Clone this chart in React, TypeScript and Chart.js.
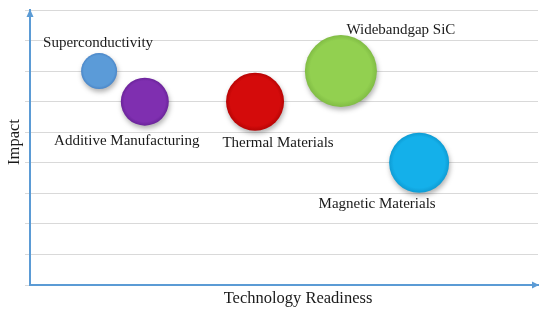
import React, { useEffect, useRef } from 'react';
import { Chart, registerables } from 'chart.js';

Chart.register(...registerables);

const names = ['Superconductivity', 'Additive Manufacturing', 'Thermal Materials', 'Widebandgap SiC', 'Magnetic Materials'];
const readiness = [1.36, 2.26, 4.43, 6.12, 7.66];
const impact = [7, 6, 6, 7, 4];
const bubbleSize = [18, 24, 29, 36, 30];

const fillColors = ['#5b9bd8', '#7f2fb0', '#d40b0b', '#92d050', '#14b0ea'];
const edgeColors = ['#4a86c8', '#6a239a', '#b80404', '#80bc44', '#0e9cd4'];
const labelOffsets = [[-1, -28], [-18, 39], [23, 41], [60, -41], [-42, 41]];

const AXIS_COLOR = '#5b9bd5';
const FONT = '"Liberation Serif", "Times New Roman", serif';

export default function App() {
  const ref = useRef<HTMLCanvasElement | null>(null);

  useEffect(() => {
    const canvas = ref.current;
    if (!canvas) return;

    const overlay = {
      id: 'overlay',
      beforeDatasetsDraw(chart: any) {
        const ctx = chart.ctx;
        ctx.save();
        ctx.shadowColor = 'rgba(0,0,0,0.3)';
        ctx.shadowBlur = 5;
        ctx.shadowOffsetX = 1;
        ctx.shadowOffsetY = 3;
      },
      afterDatasetsDraw(chart: any) {
        const ctx = chart.ctx;
        ctx.restore();
        const area = chart.chartArea;
        // arrowheads
        ctx.save();
        ctx.fillStyle = AXIS_COLOR;
        ctx.beginPath();
        ctx.moveTo(area.left, area.top - 1);
        ctx.lineTo(area.left - 3.5, area.top + 7);
        ctx.lineTo(area.left + 3.5, area.top + 7);
        ctx.closePath();
        ctx.fill();
        ctx.beginPath();
        ctx.moveTo(area.right + 1, area.bottom);
        ctx.lineTo(area.right - 6, area.bottom - 3.5);
        ctx.lineTo(area.right - 6, area.bottom + 3.5);
        ctx.closePath();
        ctx.fill();
        ctx.restore();

        // bubble labels
        const meta = chart.getDatasetMeta(0);
        ctx.save();
        ctx.fillStyle = '#1a1a1a';
        ctx.font = '15px ' + FONT;
        ctx.textAlign = 'center';
        ctx.textBaseline = 'middle';
        meta.data.forEach((el: any, i: number) => {
          const [dx, dy] = labelOffsets[i];
          ctx.fillText(names[i], el.x + dx, el.y + dy);
        });
        // axis titles
        ctx.font = '16.5px ' + FONT;
        ctx.fillText('Technology Readiness', 298, 299);
        ctx.translate(15, 142);
        ctx.rotate(-Math.PI / 2);
        ctx.fillText('Impact', 0, 0);
        ctx.restore();
      },
    };

    const chart = new Chart(canvas, {
      type: 'bubble',
      data: {
        datasets: [
          {
            label: 'Technologies',
            data: names.map((_, i) => ({ x: readiness[i], y: impact[i], r: bubbleSize[i] })),
            borderWidth: 0,
            hoverBorderWidth: 0,
            clip: false,
            backgroundColor: (c: any) => {
              const chart = c.chart;
              const raw = c.raw;
              const i = c.dataIndex;
              if (!raw || !chart.scales || !chart.scales.x || !chart.scales.y) return fillColors[i];
              const x = chart.scales.x.getPixelForValue(raw.x);
              const y = chart.scales.y.getPixelForValue(raw.y);
              const r = raw.r;
              if (!isFinite(x) || !isFinite(y) || !isFinite(r)) return fillColors[i];
              const g = chart.ctx.createRadialGradient(x, y - r * 0.1, 0, x, y, r);
              g.addColorStop(0, fillColors[i]);
              g.addColorStop(0.85, fillColors[i]);
              g.addColorStop(1, edgeColors[i]);
              return g;
            },
          },
        ],
      },
      options: {
        responsive: false,
        animation: false,
        events: [],
        layout: { autoPadding: false, padding: { left: 25, right: 2, top: 10, bottom: 16 } },
        plugins: {
          legend: { display: false },
          tooltip: { enabled: false },
        },
        scales: {
          x: {
            type: 'linear',
            min: 0,
            max: 10,
            grid: { display: false },
            ticks: { display: false },
            border: { display: true, color: AXIS_COLOR, width: 2 },
          },
          y: {
            type: 'linear',
            min: 0,
            max: 9,
            ticks: { display: false, stepSize: 1 },
            grid: { color: '#d9d9d9', lineWidth: 1, drawTicks: true, tickLength: 5 },
            border: { display: true, color: AXIS_COLOR, width: 2 },
          },
        },
      },
      plugins: [overlay],
    });

    return () => chart.destroy();
  }, []);

  return (
    <div style={{ position: 'absolute', left: 0, top: 0, width: 540, height: 309, background: '#fff' }}>
      <canvas ref={ref} width={540} height={309} style={{ display: 'block' }} />
    </div>
  );
}
